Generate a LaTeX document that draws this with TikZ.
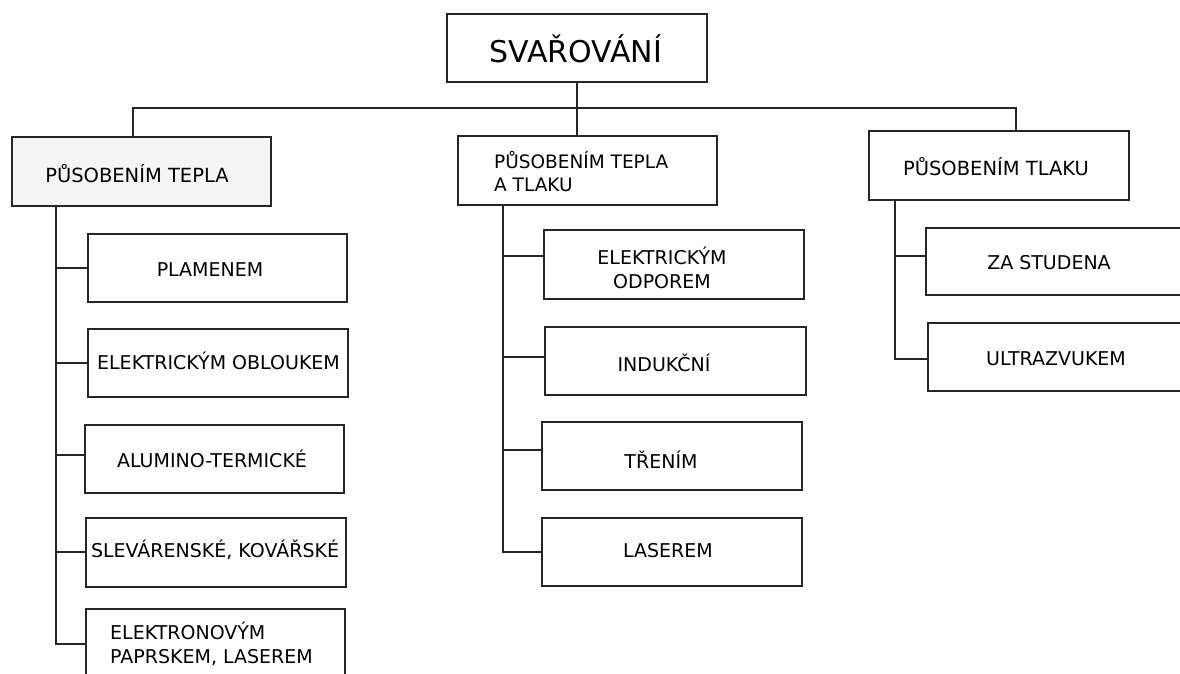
\documentclass[tikz,border=0pt]{standalone}
\usepackage{fontspec}
\setmainfont{DejaVu Sans}
\begin{document}
\begin{tikzpicture}[x=1pt,y=-1pt,
  box/.style={draw=black!85, line width=1.5pt, fill=white, inner sep=0, anchor=north west},
  lbl/.style={font=\fontsize{19}{23.5}\selectfont, inner sep=0, text=black},
  hdr/.style={lbl, font=\fontsize{19.5}{23.5}\selectfont},
  conn/.style={draw=black!85, line width=1.5pt}]
\useasboundingbox (0,0) rectangle (1180,673);
% boxes
\node[box, minimum width=260pt, minimum height=68pt] (title) at (446,13) {};
\node[box, fill=black!4, minimum width=259pt, minimum height=69pt] (c1) at (11,136) {};
\node[box, minimum width=259pt, minimum height=69pt] (c2) at (457,135) {};
\node[box, minimum width=260pt, minimum height=69pt] (c3) at (868,130) {};
% column 1
\node[box, minimum width=259pt, minimum height=68pt] (a1) at (87,233) {};
\node[box, minimum width=260pt, minimum height=68pt] (a2) at (87,328) {};
\node[box, minimum width=259pt, minimum height=68pt] (a3) at (84,424) {};
\node[box, minimum width=260pt, minimum height=69pt] (a4) at (85,517) {};
\node[box, minimum width=259pt, minimum height=70pt] (a5) at (85,608) {};
% column 2
\node[box, minimum width=260pt, minimum height=69pt] (b1) at (543,229) {};
\node[box, minimum width=261pt, minimum height=68pt] (b2) at (544,326) {};
\node[box, minimum width=260pt, minimum height=68pt] (b3) at (541,421) {};
\node[box, minimum width=260pt, minimum height=68pt] (b4) at (541,517) {};
% column 3
\node[box, minimum width=262pt, minimum height=67pt] (d1) at (925,227) {};
\node[box, minimum width=260pt, minimum height=68pt] (d2) at (927,322) {};
% texts
\node[lbl, font=\fontsize{30}{34}\selectfont, anchor=base] (ttitle) at (576,62.5) {SVAŘOVÁNÍ};
\node[hdr, anchor=base] (tc1) at (137,182) {PŮSOBENÍM TEPLA};
\node[hdr, font=\fontsize{18.5}{23.5}\selectfont, anchor=base west, align=left] (tc2) at (494,191.5) {PŮSOBENÍM TEPLA\\A TLAKU};
\node[hdr, anchor=base] (tc3) at (996,175) {PŮSOBENÍM TLAKU};
\node[lbl, anchor=base] (ta1) at (210,276.5) {PLAMENEM};
\node[lbl, anchor=base] (ta2) at (218.5,369.5) {ELEKTRICKÝM OBLOUKEM};
\node[lbl, anchor=base] (ta3) at (212,467) {ALUMINO-TERMICKÉ};
\node[lbl, anchor=base] (ta4) at (215,557) {SLEVÁRENSKÉ, KOVÁŘSKÉ};
\node[lbl, anchor=base west, align=left] (ta5) at (110,663) {ELEKTRONOVÝM\\PAPRSKEM, LASEREM};
\node[lbl, anchor=base, align=center] (tb1) at (662,288) {ELEKTRICKÝM\\ODPOREM};
\node[lbl, anchor=base] (tb2) at (664,371) {INDUKČNÍ};
\node[lbl, anchor=base] (tb3) at (661,468) {TŘENÍM};
\node[lbl, anchor=base] (tb4) at (668,557) {LASEREM};
\node[lbl, anchor=base] (td1) at (1049,269) {ZA STUDENA};
\node[lbl, anchor=base] (td2) at (1056,365) {ULTRAZVUKEM};
% junction coordinates
\coordinate (busL) at (133,108);
\coordinate (busR) at (1016,108);
\coordinate (tr1) at (56,0);
\coordinate (tr2) at (503,0);
\coordinate (tr3) at (895,0);
% top connectors
\draw[conn] (title.south) -- (title.south |- c2.north);
\draw[conn] (busL |- c1.north) -- (busL) -- (busR) -- (busR |- c3.north);
% column 1 connectors
\draw[conn] (tr1 |- c1.south) -- (tr1 |- a5.west) -- (a5.west);
\draw[conn] (tr1 |- a1.west) -- (a1.west);
\draw[conn] (tr1 |- a2.west) -- (a2.west);
\draw[conn] ([yshift=4pt]tr1 |- a3.west) -- ([yshift=4pt]a3.west);
\draw[conn] ([yshift=0.5pt]tr1 |- a4.west) -- ([yshift=0.5pt]a4.west);
% column 2 connectors
\draw[conn] (tr2 |- c2.south) -- (tr2 |- b4.west) -- (b4.west);
\draw[conn] ([yshift=8.5pt]tr2 |- b1.west) -- ([yshift=8.5pt]b1.west);
\draw[conn] ([yshift=4pt]tr2 |- b2.west) -- ([yshift=4pt]b2.west);
\draw[conn] ([yshift=6pt]tr2 |- b3.west) -- ([yshift=6pt]b3.west);
% column 3 connectors
\draw[conn] (tr3 |- c3.south) -- ([yshift=-2pt]tr3 |- d2.west) -- ([yshift=-2pt]d2.west);
\draw[conn] ([yshift=5.5pt]tr3 |- d1.west) -- ([yshift=5.5pt]d1.west);
\end{tikzpicture}
\end{document}
